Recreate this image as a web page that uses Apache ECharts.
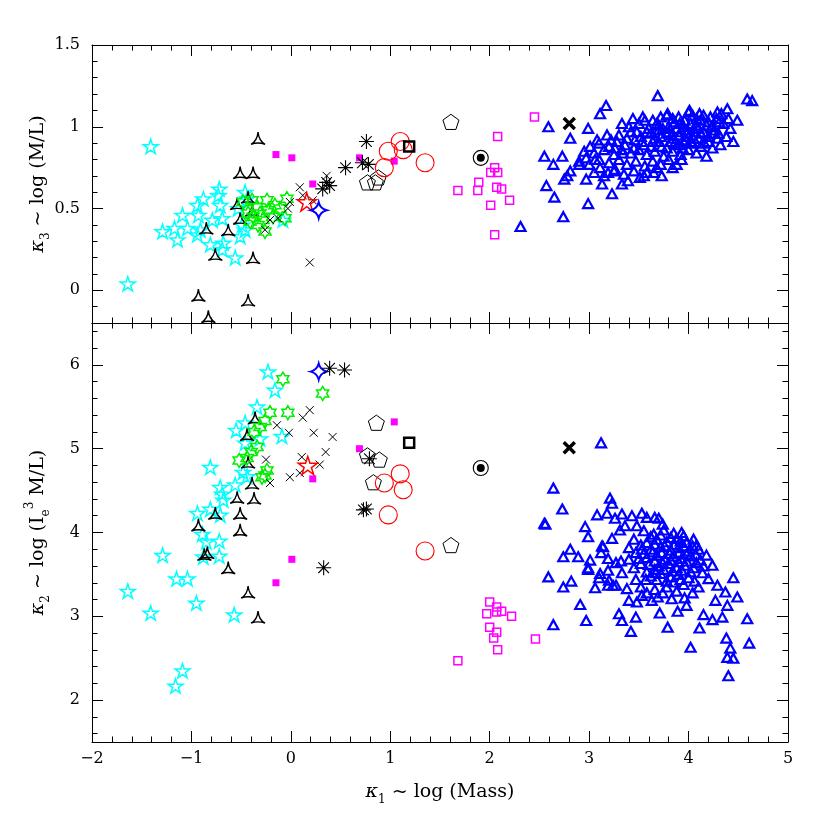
<!DOCTYPE html>
<html><head><meta charset="utf-8">
<script src="https://cdn.jsdelivr.net/npm/echarts@6/dist/echarts.min.js"></script>
<style>html,body{margin:0;padding:0;background:#fff}#c{width:830px;height:830px}</style>
</head><body><div id="c"></div><script>
// ---------- tick labels ----------
const xTicks = [-2,-1,0,1,2,3,4,5];
const topYTicks = [0,0.5,1,1.5];
const topYMinor = [-0.2,-0.1,0.1,0.2,0.3,0.4,0.6,0.7,0.8,0.9,1.1,1.2,1.3,1.4];
const botYTicks = [2,3,4,5,6];
const botYMinor = [1.6,1.8,2.2,2.4,2.6,2.8,3.2,3.4,3.6,3.8,4.2,4.4,4.6,4.8,5.2,5.4,5.6,5.8,6.2,6.4];

// ---------- TOP PANEL (kappa3 vs kappa1) ----------
const topCyanStars = [[-1.41,0.88],[-1.64,0.04],[-0.72,0.62],[-0.73,0.58],[-0.88,0.56],[-0.94,0.52],[-0.71,0.52],[-1.09,0.46],[-0.93,0.46],[-0.79,0.43],[-0.69,0.44],[-1.29,0.36],[-1.17,0.38],[-1.04,0.38],[-1.14,0.31],[-0.94,0.34],[-0.81,0.28],[-0.68,0.29],[-0.69,0.25],[-0.56,0.20],[-0.51,0.33],[-0.46,0.37],[-0.46,0.60],[-0.53,0.50],[-0.44,0.56],[-0.08,0.43],[-0.49,0.40],[-0.91,0.37]];
const topGreenStars = [[-0.48,0.54],[-0.39,0.55],[-0.34,0.51],[-0.24,0.55],[-0.31,0.47],[-0.23,0.49],[-0.38,0.45],[-0.18,0.45],[-0.28,0.43],[-0.11,0.50],[-0.26,0.36],[-0.04,0.56],[-0.06,0.44],[-0.43,0.47],[-0.41,0.42],[-0.33,0.40],[-0.16,0.52]];
const topTri = [[-0.33,0.93],[-0.51,0.72],[-0.38,0.72],[-0.43,0.57],[-0.54,0.53],[-0.39,0.49],[-0.51,0.44],[-0.85,0.38],[-0.63,0.37],[-0.76,0.22],[-0.38,0.20],[-0.93,-0.03],[-0.43,-0.06],[-0.83,-0.16]];
const topCross = [[0.09,0.63],[0.12,0.58],[-0.01,0.54],[-0.03,0.50],[-0.21,0.43],[-0.13,0.44],[-0.26,0.37],[0.19,0.17],[0.36,0.70],[0.22,0.55]];
const topMagentaFilled = [[-0.15,0.83],[0.01,0.81],[0.22,0.65],[0.69,0.81],[1.04,0.79]];
const topRedStar = [[0.16,0.54]];
const topBlueStar4 = [[0.28,0.49]];
const topAsterisk = [[0.76,0.91],[0.55,0.75],[0.72,0.78],[0.78,0.77],[0.36,0.66],[0.39,0.64],[0.32,0.62]];
const topPentagon = [[1.61,1.03],[0.77,0.66],[0.85,0.66],[0.88,0.69]];
const topRedCircle = [[1.10,0.91],[0.98,0.85],[1.13,0.86],[0.94,0.75],[1.35,0.78]];
const topBlackSquare = [[1.19,0.88]];
const topDotCircle = [[1.91,0.81]];
const topBoldX = [[2.80,1.02]];
const topMagentaOpen = [[2.45,1.06],[2.08,0.94],[2.05,0.75],[2.08,0.72],[2.01,0.72],[1.89,0.66],[1.88,0.61],[1.68,0.61],[2.07,0.63],[2.12,0.62],[2.20,0.55],[2.01,0.52],[2.05,0.34]];
const topBlueTri = [[2.59,1.00],[2.55,0.82],[2.64,0.77],[2.57,0.64],[2.65,0.57],[2.31,0.39],[2.74,0.45],[2.73,0.82],[2.81,0.93],[2.99,0.99],[3.11,1.08],[3.17,1.13],[3.69,1.19],[4.59,1.17],[4.64,1.16],[2.99,0.53],[3.23,0.59],[3.13,0.65],[2.97,0.68],[2.75,0.68],[2.78,0.70],[2.81,0.73],[2.90,0.77],[2.97,0.81],[3.01,0.88],[3.08,0.92],[3.18,0.95],[3.06,0.80],[3.11,0.75],[3.19,0.72],[3.33,0.65],[3.39,0.67],[3.26,0.74],[3.33,1.02],[3.44,1.05],[3.54,1.06],[3.68,1.02],[3.79,1.08],[4.01,1.10],[4.11,1.08],[4.29,1.09],[4.39,1.11],[4.49,1.04],[4.45,0.91],[4.24,0.87],[4.29,0.93],[3.51,0.69],[3.58,0.72],[3.73,0.70],[3.68,0.75],[3.84,0.75],[3.93,0.80],
[3.78,1.07],[3.90,1.06],[4.00,1.09],[4.08,1.05],[4.15,1.07],[4.22,1.06],[4.33,1.08],[4.40,1.05],
[3.40,1.00],[3.50,1.02],[3.60,0.99],[3.70,1.01],[3.80,1.00],[3.86,1.03],[3.95,1.00],[4.02,1.02],[4.10,0.99],[4.18,1.01],[4.26,0.98],[4.35,1.02],[4.42,0.99],
[3.30,0.95],[3.42,0.97],[3.52,0.94],[3.62,0.96],[3.72,0.94],[3.80,0.97],[3.90,0.95],[3.98,0.96],[4.05,0.93],[4.12,0.96],[4.20,0.94],[4.30,0.96],[4.38,0.94],
[3.10,0.90],[3.20,0.88],[3.28,0.91],[3.36,0.89],[3.46,0.92],[3.55,0.89],[3.64,0.91],[3.73,0.88],[3.82,0.91],[3.90,0.89],[3.97,0.92],[4.04,0.90],[4.12,0.88],[4.20,0.91],[4.32,0.89],
[2.95,0.85],[3.05,0.84],[3.15,0.86],[3.25,0.83],[3.33,0.86],[3.42,0.84],[3.50,0.86],[3.58,0.83],[3.66,0.85],[3.75,0.82],[3.84,0.85],[3.92,0.83],[4.00,0.86],[4.08,0.84],[4.18,0.82],
[2.90,0.79],[3.00,0.77],[3.10,0.80],[3.20,0.78],[3.30,0.80],[3.38,0.77],[3.47,0.79],[3.56,0.76],[3.64,0.79],[3.72,0.77],[3.80,0.80],[3.88,0.77],
[3.05,0.72],[3.15,0.70],[3.25,0.73],[3.35,0.71],[3.45,0.73],[3.55,0.70],[3.65,0.72],
[3.85,0.93],[3.93,0.97],[4.00,0.94],[3.95,0.91],[3.88,0.99],[4.06,0.97],[3.78,0.96],[3.70,0.98],
[3.58,0.97],[3.66,0.93],[3.74,0.99],[3.83,0.95],[3.91,1.02],[3.99,0.98],[4.07,1.01],[4.15,0.97],[4.23,1.00],[4.31,1.03],[3.62,0.88],[3.70,0.91],[3.78,0.87],[3.86,0.90],[3.94,0.87],[4.02,0.91],[4.10,0.93],[4.16,0.90],[4.25,0.96],[3.45,0.87],[3.53,0.91],[3.38,0.93],[3.48,0.97],[3.56,1.04],[3.64,1.04],[3.72,1.06],[3.84,1.05],[3.96,1.04],[4.04,1.07],[4.12,1.04],[4.20,1.03],[4.28,1.05],[3.26,0.87],[3.34,0.84],[3.22,0.92]];

// ---------- BOTTOM PANEL (kappa2 vs kappa1) ----------
const botCyanStars = [[-0.23,5.92],[-0.16,5.70],[-0.34,5.50],[-0.46,5.31],[-0.55,5.22],[-0.31,5.12],[-0.09,5.15],[-0.46,5.07],[-0.81,4.78],[-0.48,4.72],[-0.44,4.67],[-0.56,4.57],[-0.71,4.54],[-0.69,4.46],[-0.68,4.39],[-0.94,4.23],[-0.81,4.28],[-0.71,4.21],[-0.89,3.98],[-0.85,3.89],[-0.72,3.90],[-0.88,3.71],[-0.72,3.72],[-1.29,3.73],[-1.15,3.45],[-1.04,3.45],[-1.64,3.30],[-0.95,3.16],[-1.41,3.04],[-0.57,3.02],[-1.09,2.35],[-1.16,2.17]];
const botGreenStars = [[-0.08,5.83],[0.32,5.66],[-0.03,5.43],[-0.21,5.43],[-0.26,5.33],[-0.31,5.26],[-0.37,5.20],[-0.34,5.02],[-0.40,4.96],[-0.44,4.89],[-0.52,4.86],[-0.24,4.74],[-0.26,4.68],[-0.29,4.66]];
const botTri = [[-0.36,5.37],[-0.44,5.17],[-0.43,4.84],[-0.39,4.59],[-0.54,4.42],[-0.37,4.41],[-0.51,4.23],[-0.76,4.23],[-0.93,4.09],[-0.51,4.03],[-0.84,3.76],[-0.87,3.74],[-0.63,3.58],[-0.43,3.29],[-0.33,2.99]];
const botCross = [[0.19,5.46],[0.12,5.37],[-0.14,5.28],[-0.02,5.19],[0.23,5.19],[0.42,5.14],[0.35,4.96],[0.11,4.90],[-0.25,4.87],[0.29,4.81],[-0.01,4.66],[0.09,4.71],[-0.21,4.59]];
const botMagentaFilled = [[1.04,5.32],[0.69,5.00],[0.22,4.64],[0.01,3.68],[-0.15,3.40]];
const botRedStar = [[0.17,4.80]];
const botBlueStar4 = [[0.28,5.92]];
const botAsterisk = [[0.39,5.96],[0.54,5.94],[0.79,4.88],[0.73,4.27],[0.76,4.28],[0.33,3.58]];
const botPentagon = [[0.86,5.31],[0.77,4.92],[0.89,4.87],[0.83,4.60],[1.61,3.85]];
const botRedCircle = [[1.10,4.70],[0.94,4.59],[1.13,4.51],[0.98,4.21],[1.35,3.78]];
const botBlackSquare = [[1.19,5.07]];
const botDotCircle = [[1.91,4.77]];
const botBoldX = [[2.80,5.01]];
const botMagentaOpen = [[2.00,3.17],[2.07,3.11],[2.12,3.06],[1.97,3.03],[2.07,3.05],[2.22,3.00],[2.00,2.87],[2.07,2.81],[2.04,2.74],[2.08,2.60],[1.68,2.47],[2.46,2.73]];
const botBlueTri = [[3.12,5.07],[2.64,4.53],[2.73,4.28],[2.55,4.11],[2.56,4.10],[3.21,4.41],[3.23,4.35],[3.08,4.21],[3.18,4.23],[2.96,4.07],[2.99,3.95],[3.26,4.17],[3.33,4.22],[3.43,4.20],[3.53,4.23],[3.58,4.18],[3.66,4.18],[3.70,4.17],[3.74,4.10],[3.31,4.03],[3.36,4.08],[3.48,4.08],[3.23,3.93],[2.81,3.80],[3.13,3.84],[3.93,4.00],[4.08,3.85],[4.18,3.73],[2.74,3.71],[2.89,3.71],[3.01,3.67],[2.59,3.47],[2.82,3.42],[2.74,3.35],[2.99,3.56],[3.11,3.51],[3.06,3.34],[3.19,3.55],[3.24,3.37],[2.91,3.14],[2.97,2.95],[2.64,2.90],[3.30,3.03],[3.33,2.95],[3.47,2.99],[3.42,2.82],[3.71,3.04],[3.79,2.87],[3.40,3.19],[3.48,3.17],[3.89,3.06],[3.98,3.13],[4.11,2.86],[4.24,2.96],[4.34,2.99],[4.15,3.02],[4.02,2.63],[4.38,2.74],[4.42,2.62],[4.39,2.51],[4.45,2.50],[4.40,2.29],[4.61,2.68],[4.59,2.97],[4.49,3.23],[4.45,3.46],[4.29,3.37],[4.37,3.29],[4.27,3.19],[4.39,3.13],[4.24,3.61],[4.14,3.52],[4.10,3.35],[4.04,3.28],[3.96,3.22],[3.83,3.21],[3.78,3.35],[3.69,3.23],[3.63,3.19],[3.58,3.28],[3.53,3.25],[3.52,3.35],[3.47,3.44],[3.57,3.44],[3.67,3.52],[3.38,3.33],[3.19,3.37],[3.10,3.46],[3.20,3.43],[3.27,3.37],[3.27,3.64],[3.32,3.66],[3.40,3.68],[3.47,3.76],[3.53,3.80],[3.33,3.52],[3.19,3.69],[3.12,3.76],[3.14,3.83],[2.99,3.58],
[3.55,4.02],[3.65,3.98],[3.75,4.03],[3.85,3.99],[3.95,3.96],
[3.45,3.92],[3.58,3.88],[3.68,3.92],[3.78,3.89],[3.88,3.93],[3.98,3.88],[4.05,3.92],
[3.40,3.82],[3.62,3.80],[3.72,3.83],[3.82,3.79],[3.90,3.82],[4.00,3.78],[4.10,3.80],
[3.58,3.70],[3.68,3.73],[3.76,3.68],[3.85,3.72],[3.93,3.69],[4.02,3.72],[4.12,3.67],
[3.45,3.58],[3.60,3.62],[3.70,3.60],[3.80,3.63],[3.88,3.58],[3.96,3.61],[4.05,3.58],[3.75,3.56],
[3.62,3.48],[3.72,3.51],[3.82,3.47],[3.90,3.50],[4.00,3.46],[3.85,3.41],[3.95,3.38],
[3.66,3.32],[3.74,3.28],[3.88,3.30],
[3.62,3.95],[3.72,3.97],[3.82,3.94],[3.92,3.90],[3.52,3.85],[3.66,3.86],[3.76,3.84],[3.86,3.86],[3.95,3.84],[4.04,3.84],[3.55,3.75],[3.64,3.77],[3.73,3.76],[3.81,3.75],[3.90,3.76],[3.98,3.74],[4.07,3.74],[3.66,3.66],[3.74,3.64],[3.82,3.67],[3.90,3.65],[3.98,3.66],[4.08,3.64],[3.52,3.63],[3.66,3.56],[3.84,3.54],[3.93,3.55],[4.02,3.53],[3.68,3.44],[3.78,3.42],[3.58,3.53],[3.50,3.69],[4.15,3.60],[4.20,3.45],[3.92,3.44],[4.06,3.42]];

// ---------- symbols ----------
const SYM = {
  star5: 'path://M0,-10L2.245,-3.09L9.511,-3.09L3.633,1.18L5.878,8.09L0,3.82L-5.878,8.09L-3.633,1.18L-9.511,-3.09L-2.245,-3.09Z',
  star6: 'path://M0,-10L2.887,-5L8.66,-5L5.77,0L8.66,5L2.887,5L0,10L-2.887,5L-8.66,5L-5.77,0L-8.66,-5L-2.887,-5Z',
  tri: 'path://M0,-10Q0.9,0.5 8.66,5Q0,1.8 -8.66,5Q-0.9,0.5 0,-10Z',
  star4: 'path://M0,-10Q2,-2 10,0Q2,2 0,10Q-2,2 -10,0Q-2,-2 0,-10Z',
  aster: 'path://M-10,0L10,0M0,-10L0,10M-7.07,-7.07L7.07,7.07M-7.07,7.07L7.07,-7.07',
  pent: 'path://M0,-10L9.511,-3.09L5.878,8.09L-5.878,8.09L-9.511,-3.09Z',
  cross: 'path://M-10,-10L10,10M-10,10L10,-10'
};
const NOFILL = 'rgba(0,0,0,0)';
function sc(data, panel, symbol, size, stroke, fill, bw){
  return {
    type: 'scatter', data: data,
    xAxisIndex: panel === 0 ? 0 : 2, yAxisIndex: panel === 0 ? 0 : 4,
    symbol: symbol, symbolSize: size, symbolKeepAspect: true,
    itemStyle: {color: fill, borderColor: stroke, borderWidth: bw, opacity: 1},
    silent: true, animation: false
  };
}
function panelSeries(p, d){
  return [
    sc(d.blueTri, p, 'triangle', [10,9], '#0000ff', NOFILL, 2.2),
    sc(d.magOpen, p, 'rect', 8, '#ff00ff', NOFILL, 1.5),
    sc(d.cyan, p, SYM.star5, 15, '#00ffff', NOFILL, 1.5),
    sc(d.tri, p, SYM.tri, 14, '#000', NOFILL, 1.4),
    sc(d.green, p, SYM.star6, 14, '#00ee00', NOFILL, 1.5),
    sc(d.cross, p, SYM.cross, 8, '#000', NOFILL, 1),
    sc(d.magFill, p, 'rect', 7, '#ff00ff', '#ff00ff', 0),
    sc(d.redStar, p, SYM.star5, 19, '#ff0000', NOFILL, 1.5),
    sc(d.blueStar4, p, SYM.star4, 16, '#0000ff', NOFILL, 2),
    sc(d.aster, p, SYM.aster, 15, '#000', NOFILL, 1.1),
    sc(d.pent, p, SYM.pent, 16, '#000', NOFILL, 1),
    sc(d.redCircle, p, 'circle', 18, '#ff0000', NOFILL, 1.1),
    sc(d.blackSq, p, 'rect', 10, '#000', NOFILL, 2.5),
    sc(d.dot, p, 'circle', 15, '#000', NOFILL, 1.1),
    sc(d.dot, p, 'circle', 8, '#000', '#000', 0),
    sc(d.boldX, p, SYM.cross, 11, '#000', NOFILL, 3.5)
  ];
}
const series = [].concat(
  panelSeries(0, {blueTri: topBlueTri, magOpen: topMagentaOpen, cyan: topCyanStars, tri: topTri, green: topGreenStars, cross: topCross, magFill: topMagentaFilled, redStar: topRedStar, blueStar4: topBlueStar4, aster: topAsterisk, pent: topPentagon, redCircle: topRedCircle, blackSq: topBlackSquare, dot: topDotCircle, boldX: topBoldX}),
  panelSeries(1, {blueTri: botBlueTri, magOpen: botMagentaOpen, cyan: botCyanStars, tri: botTri, green: botGreenStars, cross: botCross, magFill: botMagentaFilled, redStar: botRedStar, blueStar4: botBlueStar4, aster: botAsterisk, pent: botPentagon, redCircle: botRedCircle, blackSq: botBlackSquare, dot: botDotCircle, boldX: botBoldX})
);

// ---------- axes ----------
const FONT = 'DejaVu Serif';
const BLACK = '#000';
const minus = v => String(v).replace('-', '\u2212');
const richName = {
  k: {fontFamily: FONT, fontSize: 19, fontStyle: 'italic', color: BLACK, lineHeight: 28},
  t: {fontFamily: FONT, fontSize: 19, color: BLACK, lineHeight: 28},
  s: {fontFamily: FONT, fontSize: 12, color: BLACK, lineHeight: 12, verticalAlign: 'bottom'},
  p: {fontFamily: FONT, fontSize: 12, color: BLACK, lineHeight: 12, verticalAlign: 'top'}
};
function xAx(grid, pos, labels, name){
  return {
    gridIndex: grid, type: 'value', position: pos, min: -2, max: 5, interval: 1,
    axisLine: {onZero: false, lineStyle: {color: BLACK, width: 1}},
    axisTick: {inside: true, length: 11, lineStyle: {color: BLACK, width: 1}},
    minorTick: {show: true, splitNumber: 5, length: 5.5, lineStyle: {color: BLACK, width: 1}},
    splitLine: {show: false}, minorSplitLine: {show: false},
    axisLabel: {show: labels, formatter: minus, fontFamily: FONT, fontSize: 16, color: BLACK, margin: 9},
    name: name || '', nameLocation: 'middle', nameGap: 36,
    nameTextStyle: {rich: richName}
  };
}
function yAx(grid, pos, min, max, ticks, len, labels, line, name, gap){
  return {
    gridIndex: grid, type: 'value', position: pos, min: min, max: max,
    axisLine: {show: line, onZero: false, lineStyle: {color: BLACK, width: 1}},
    axisTick: {inside: true, length: len, customValues: ticks, lineStyle: {color: BLACK, width: 1}},
    splitLine: {show: false},
    axisLabel: {show: labels, customValues: ticks, formatter: minus, fontFamily: FONT, fontSize: 16, color: BLACK, margin: 12},
    name: name || '', nameLocation: 'middle', nameGap: gap || 0, nameRotate: 90,
    nameMoveOverlap: false,
    nameTextStyle: {rich: richName}
  };
}
const option = {
  backgroundColor: '#fff',
  animation: false,
  grid: [
    {left: 92, top: 45, width: 696, height: 278},
    {left: 92, top: 323, width: 696, height: 419}
  ],
  xAxis: [
    xAx(0, 'bottom', false), xAx(0, 'top', false),
    xAx(1, 'bottom', true, '{k|\u03ba}{s|1}{t| ~ log (Mass)}'), xAx(1, 'top', false)
  ],
  yAxis: [
    yAx(0, 'left', -0.2, 1.5, topYTicks, 11, true, true, '{k|\u03ba}{s|3}{t| ~ log (M/L)}', 40),
    yAx(0, 'left', -0.2, 1.5, topYMinor, 5.5, false, false),
    yAx(0, 'right', -0.2, 1.5, topYTicks, 11, false, true),
    yAx(0, 'right', -0.2, 1.5, topYMinor, 5.5, false, false),
    yAx(1, 'left', 1.5, 6.5, botYTicks, 11, true, true, '{k|\u03ba}{s|2}{t| ~ log (I}{s|e}{p|3}{t| M/L)}', 40),
    yAx(1, 'left', 1.5, 6.5, botYMinor, 5.5, false, false),
    yAx(1, 'right', 1.5, 6.5, botYTicks, 11, false, true),
    yAx(1, 'right', 1.5, 6.5, botYMinor, 5.5, false, false)
  ],
  series: series
};
const chart = echarts.init(document.getElementById('c'), null, {renderer: 'canvas'});
chart.setOption(option);
</script></body></html>
